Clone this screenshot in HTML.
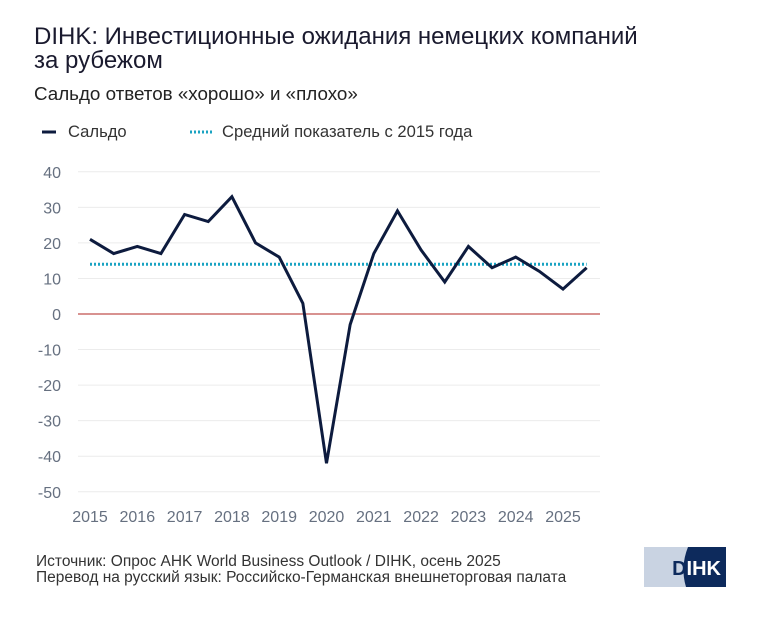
<!DOCTYPE html>
<html><head><meta charset="utf-8"><style>
body{margin:0;background:#fff;font-family:"Liberation Sans",sans-serif;}
#wrap{position:relative;width:759px;height:619px;overflow:hidden}
.t{position:absolute;white-space:nowrap}
</style></head><body><div id="wrap">
<div class="t" style="left:34px;top:25px;font-size:24px;line-height:24px;color:#1a1a2e">DIHK: Инвестиционные ожидания немецких компаний<br>за рубежом</div>
<div class="t" style="left:34px;top:83px;font-size:18.8px;color:#222">Сальдо ответов «хорошо» и «плохо»</div>
<svg id="ch" width="759" height="619" style="position:absolute;left:0;top:0">
<g>
<line x1="42" y1="132" x2="56" y2="132" stroke="#0d1b3e" stroke-width="3"/>
<text x="68" y="137" font-size="16.6" fill="#333" font-family="Liberation Sans">Сальдо</text>
<line x1="190" y1="132" x2="212" y2="132" stroke="#1aa3c2" stroke-width="3" stroke-dasharray="2,2"/>
<text x="222" y="137" font-size="16.6" fill="#333" font-family="Liberation Sans">Средний показатель с 2015 года</text>
</g>
</svg>
<div class="t" style="left:36px;top:554px;font-size:15.5px;line-height:16px;color:#333">Источник: Опрос AHK World Business Outlook / DIHK, осень 2025<br>Перевод на русский язык: Российско-Германская внешнеторговая палата</div>
<svg class="t" style="left:644px;top:547px" width="82" height="40">
<rect width="82" height="40" fill="#c9d3e2"/>
<path d="M44 0 H82 V40 H42 Q36 20 44 0Z" fill="#0d2a5c"/>
<text x="77" y="28" text-anchor="end" font-size="20" font-weight="bold" fill="#fff" font-family="Liberation Sans"><tspan fill="#0d2a5c">D</tspan>IHK</text>
</svg>
</div>
<script>
const yTicks=[40,30,20,10,0,-10,-20,-30,-40,-50];
const xTicks=[2015,2016,2017,2018,2019,2020,2021,2022,2023,2024,2025];
const periods=[2015,2015.5,2016,2016.5,2017,2017.5,2018,2018.5,2019,2019.5,2020,2020.5,2021,2021.5,2022,2022.5,2023,2023.5,2024,2024.5,2025,2025.5];
const saldo=[21,17,19,17,28,26,33,20,16,3,-42,-3,17,29,18,9,19,13,16,12,7,13];
const average=[14];
const ns="http://www.w3.org/2000/svg",svg=document.getElementById('ch');
const y=v=>314-v*3.555, x=t=>90+(t-2015)*47.3;
function mk(tag,a){const e=document.createElementNS(ns,tag);for(const k in a)e.setAttribute(k,a[k]);svg.appendChild(e);return e;}
yTicks.forEach(v=>{
 const g=mk('line',{x1:78,x2:600,y1:y(v),y2:y(v),stroke:v===0?'#c0504d':'#ececec','stroke-width':v===0?1.3:1});
 
 
 const t=mk('text',{x:61,y:y(v)+6,'text-anchor':'end','font-size':16,fill:'#667080','font-family':'Liberation Sans'});t.textContent=v;
 
 
});
xTicks.forEach(v=>{
 const t=mk('text',{x:x(v),y:522,'text-anchor':'middle','font-size':16,fill:'#667080','font-family':'Liberation Sans'});t.textContent=v;
 
 
});
const av=mk('line',{x1:x(periods[0]),x2:x(periods[periods.length-1]),y1:y(average[0]),y2:y(average[0]),stroke:'#1aa3c2','stroke-width':3,'stroke-dasharray':'2,2'});


const ln=mk('polyline',{points:periods.map((p,i)=>x(p)+','+y(saldo[i])).join(' '),fill:'none',stroke:'#0d1b3e','stroke-width':3,'stroke-linejoin':'miter'});


</script>
</body></html>
